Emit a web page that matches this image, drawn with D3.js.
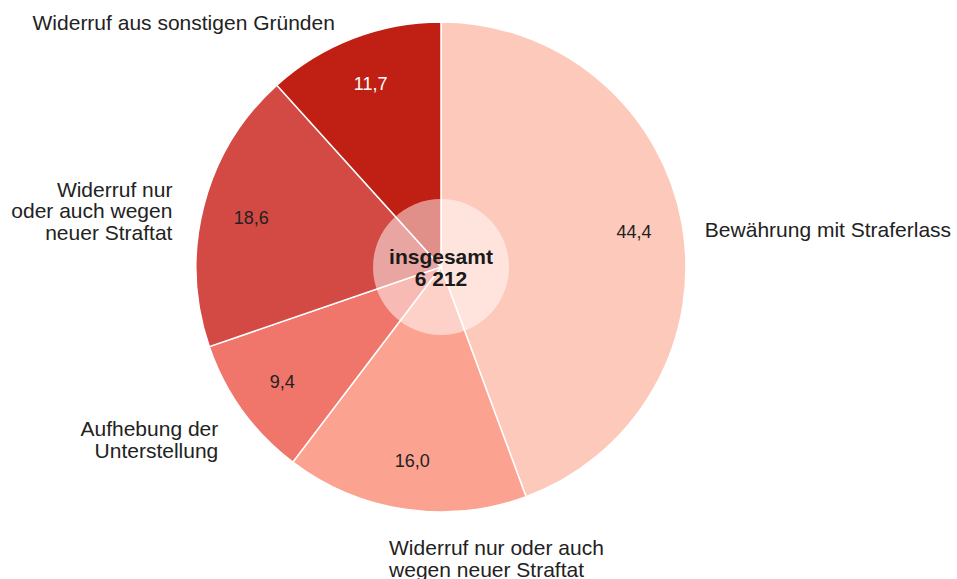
<!DOCTYPE html>
<html lang="de">
<head>
<meta charset="utf-8">
<title>Beendigung der Unterstellung</title>
<script src="https://cdn.jsdelivr.net/npm/d3@7"></script>
<style>
  body { margin: 0; background: #fff; }
  svg { display: block; font-family: "Liberation Sans", Arial, Helvetica, sans-serif; }
  .value { font-size: 18px; }
  .label { font-size: 21px; fill: #222; }
  .total { font-size: 21px; font-weight: bold; fill: #1a1a1a; }
</style>
</head>
<body>
<script>
// data
const categories = [
  ["Bewährung mit Straferlass"],
  ["Widerruf nur oder auch", "wegen neuer Straftat"],
  ["Aufhebung der", "Unterstellung"],
  ["Widerruf nur", "oder auch wegen", "neuer Straftat"],
  ["Widerruf aus sonstigen Gründen"]
];
const values = [44.4, 16.0, 9.4, 18.6, 11.7];
const totalLabel = ["insgesamt", "6 212"];

// layout
const colors = ["#fdc9bb", "#fca291", "#f0756b", "#d34a44", "#c01f13"];
const valueColors = ["#222", "#222", "#222", "#222", "#fff"];
// nudges of the outer labels from the outer label arc [dx, dy]
const labelNudge = [[3, 17], [-13, 26], [-8, 14], [-12, -4], [-11, 10]];

const w = 957, h = 579,
      cx = 441, cy = 267,
      R = 245, innerR = 68;

const svg = d3.select("body").append("svg")
  .attr("width", w).attr("height", h);

const g = svg.append("g").attr("transform", `translate(${cx},${cy})`);

const pie = d3.pie().sort(null).value(d => d);
const arcs = pie(values);

const arc = d3.arc().innerRadius(0).outerRadius(R);
const valueArc = d3.arc().innerRadius(196).outerRadius(196);
const labelArc = d3.arc().innerRadius(R + 20).outerRadius(R + 20);

g.selectAll("path.slice")
  .data(arcs).enter()
  .append("path")
  .attr("class", "slice")
  .attr("d", arc)
  .attr("fill", (d, i) => colors[i])
  .attr("stroke", "#fff")
  .attr("stroke-width", 1.5);

// translucent centre disc
g.append("circle")
  .attr("r", innerR)
  .attr("fill", "#fff")
  .attr("fill-opacity", 0.5);

const fmt = v => v.toFixed(1).replace(".", ",");

g.selectAll("text.value")
  .data(arcs).enter()
  .append("text")
  .attr("class", "value")
  .attr("text-anchor", "middle")
  .attr("dominant-baseline", "central")
  .attr("transform", d => `translate(${valueArc.centroid(d)})`)
  .attr("fill", (d, i) => valueColors[i])
  .text(d => fmt(d.data));

g.selectAll("text.label")
  .data(arcs).enter()
  .append("text")
  .attr("class", "label")
  .attr("text-anchor", d => ((d.startAngle + d.endAngle) / 2 < Math.PI * 0.95 ? "start" : "end"))
  .attr("transform", (d, i) => {
    const c = labelArc.centroid(d);
    return `translate(${c[0] + labelNudge[i][0]},${c[1] + labelNudge[i][1]})`;
  })
  .each(function(d, i) {
    const t = d3.select(this);
    const mid = (d.startAngle + d.endAngle) / 2;
    // the bottom label sits left-aligned under the pie
    if (i === 1) t.attr("text-anchor", "start");
    categories[i].forEach((line, k) => {
      t.append("tspan").attr("x", 0).attr("y", k * 21.5).text(line);
    });
  });

g.append("text")
  .attr("class", "total")
  .attr("text-anchor", "middle")
  .selectAll("tspan")
  .data(totalLabel).enter()
  .append("tspan")
  .attr("x", 0)
  .attr("y", (d, i) => -3 + i * 22)
  .text(d => d);
</script>
</body>
</html>
